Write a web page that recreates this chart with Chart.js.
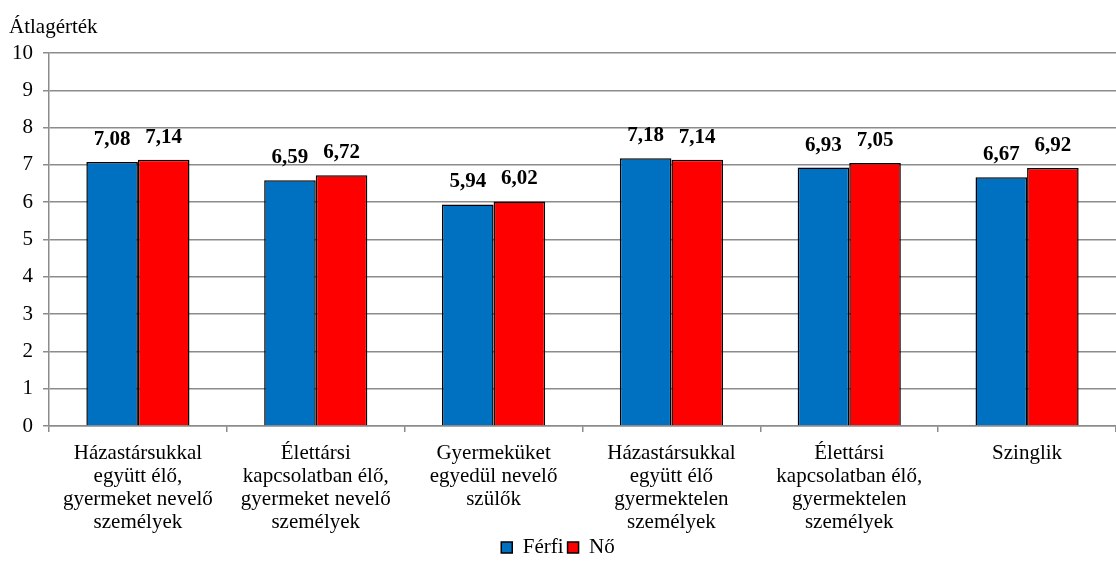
<!DOCTYPE html>
<html>
<head>
<meta charset="utf-8">
<script src="https://cdn.jsdelivr.net/npm/chart.js@4"></script>
<style>
html,body{margin:0;padding:0;background:#fff;}
#wrap{width:1116px;height:568px;}
</style>
</head>
<body>
<div id="wrap"><canvas id="c" width="1116" height="568"></canvas></div>
<script>
const categories = [
  ["Házastársukkal", "együtt élő,", "gyermeket nevelő", "személyek"],
  ["Élettársi", "kapcsolatban élő,", "gyermeket nevelő", "személyek"],
  ["Gyermeküket", "egyedül nevelő", "szülők"],
  ["Házastársukkal", "együtt élő", "gyermektelen", "személyek"],
  ["Élettársi", "kapcsolatban élő,", "gyermektelen", "személyek"],
  ["Szinglik"]
];
const ferfi = [7.08, 6.59, 5.94, 7.18, 6.93, 6.67];
const no = [7.14, 6.72, 6.02, 7.14, 7.05, 6.92];
const seriesNames = ["Férfi", "Nő"];
const yAxisTitle = "Átlagérték";

const serif = "'Liberation Serif', 'Times New Roman', serif";

const labelPlugin = {
  id: 'valueLabels',
  afterDatasetsDraw(chart) {
    const ctx = chart.ctx;
    ctx.save();
    ctx.font = "bold 21px " + serif;
    ctx.fillStyle = "#000";
    ctx.textAlign = "center";
    ctx.textBaseline = "alphabetic";
    chart.data.datasets.forEach((ds, i) => {
      const meta = chart.getDatasetMeta(i);
      meta.data.forEach((bar, j) => {
        const txt = ds.data[j].toFixed(2).replace('.', ',');
        ctx.fillText(txt, bar.x, bar.y - 17);
      });
    });
    ctx.restore();
  }
};

const titlePlugin = {
  id: 'topTitle',
  afterDraw(chart) {
    const ctx = chart.ctx;
    ctx.save();
    ctx.font = "21px " + serif;
    ctx.fillStyle = "#000";
    ctx.textAlign = "left";
    ctx.textBaseline = "alphabetic";
    ctx.fillText(yAxisTitle, 9, 33);
    ctx.restore();
  }
};

new Chart(document.getElementById('c'), {
  type: 'bar',
  data: {
    labels: categories,
    datasets: [
      { label: seriesNames[0], data: ferfi, backgroundColor: '#0070C0', borderColor: '#000', borderWidth: 1.5 },
      { label: seriesNames[1], data: no, backgroundColor: '#FF0000', borderColor: '#000', borderWidth: 1.5 }
    ]
  },
  plugins: [labelPlugin, titlePlugin],
  options: {
    responsive: false,
    animation: false,
    devicePixelRatio: 1,
    layout: { padding: { top: 53, right: 0, left: 0, bottom: 0 } },
    datasets: { bar: { categoryPercentage: 0.58, barPercentage: 1.0 } },
    plugins: {
      legend: {
        position: 'bottom',
        labels: {
          font: { family: serif, size: 21 },
          color: '#000',
          boxWidth: 11,
          boxHeight: 11,
          padding: 4,
          generateLabels(chart) {
            return chart.data.datasets.map((ds, i) => ({
              text: ds.label,
              fillStyle: ds.backgroundColor,
              strokeStyle: '#000',
              lineWidth: 1.5,
              datasetIndex: i
            }));
          }
        }
      },
      tooltip: { enabled: false }
    },
    scales: {
      x: {
        grid: { offset: true, drawOnChartArea: false, drawTicks: true, tickLength: 6, color: '#8c8c8c', lineWidth: 1.5 },
        border: { color: '#8c8c8c', width: 1.5 },
        ticks: { font: { family: serif, size: 21, lineHeight: 1.1 }, color: '#000', maxRotation: 0, autoSkip: false, padding: 10 },
        afterFit(scale) { scale.height = 107; }
      },
      y: {
        min: 0, max: 10,
        grid: { color: '#8c8c8c', lineWidth: 1.5, tickLength: 6 },
        border: { color: '#8c8c8c', width: 1.5 },
        ticks: { stepSize: 1, font: { family: serif, size: 21 }, color: '#000', padding: 10 },
        afterFit(scale) { scale.width = 49; }
      }
    }
  }
});
</script>
</body>
</html>
